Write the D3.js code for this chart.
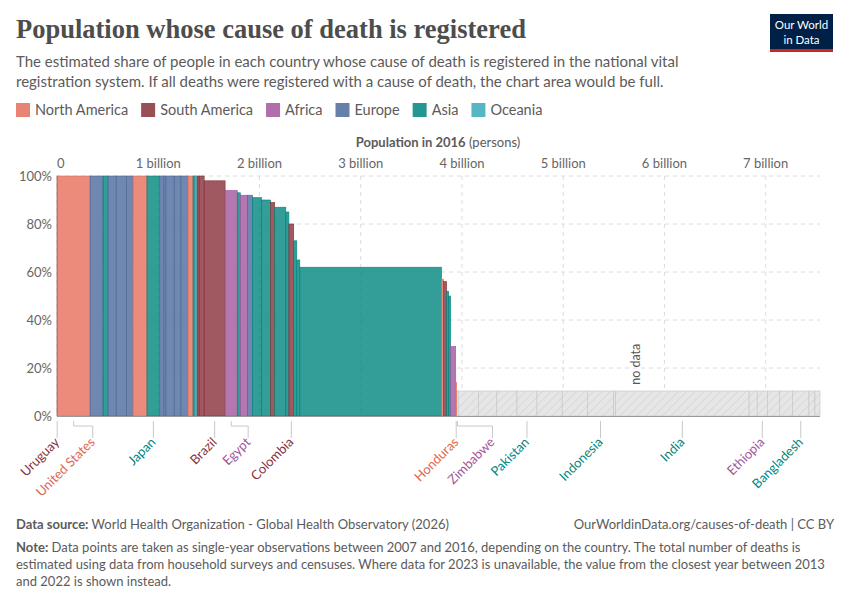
<!DOCTYPE html>
<html><head><meta charset="utf-8">
<script src="https://cdn.jsdelivr.net/npm/d3@7"></script>
<style>
body{margin:0;background:#fff;font-family:Lato,"Noto Sans",sans-serif;}
</style></head>
<body><svg id="chart" width="850" height="600"></svg>
<script>
// regions and colours
const regions = ["North America","South America","Africa","Europe","Asia","Oceania"];
const regionColors = ["#E56E5A","#883039","#A2559C","#4C6A9C","#00847E","#38AABA"];
const labelColors = ["#e0654f","#883039","#a2559c","#4c6a9c","#00847e","#38aaba"];

// countries with data, sorted by share registered (population in billions, share %)
const names   = ["Uruguay","United States","","","","","","Mexico","Japan","","","Germany","","","","","","","","Brazil","Egypt","","","","","","","","","Colombia","","","China","","","","","","Honduras"];
const region  = ["South America","North America","Europe","Asia","Europe","Europe","Europe","North America","Asia","Europe","Europe","Europe","Europe","Europe","North America","Asia","Oceania","South America","South America","South America","Africa","Asia","Africa","Europe","Asia","Asia","South America","Asia","Asia","South America","Asia","Asia","Asia","North America","South America","Asia","Asia","Africa","North America"];
const pop     = [0.0035,0.323,0.128,0.05,0.08,0.1,0.066,0.138,0.127,0.04,0.02,0.082,0.066,0.07,0.05,0.02,0.02,0.02,0.05,0.207,0.12,0.03,0.07,0.05,0.09,0.09,0.04,0.11,0.03,0.048,0.03,0.03,1.40,0.02,0.03,0.02,0.02,0.05,0.009];
const share   = [100,100,100,100,100,100,100,100,100,100,100,100,100,100,100,100,100,100,100,98,94,93,92,92,91,90,89,87,85,80,73,65,62,57,56,52,50,29,14];

// countries without data
const noDataNames  = ["Zimbabwe","","","","Pakistan","","","Indonesia","","India","","Ethiopia","","","Bangladesh","",""];
const noDataRegion = ["Africa","Africa","Asia","Africa","Asia","Africa","Asia","Asia","Asia","Asia","Africa","Africa","Africa","Asia","Asia","Africa","Asia"];
const noDataPop    = [0.016,0.2,0.18,0.2,0.197,0.25,0.25,0.256,0.02,1.32,0.08,0.10,0.12,0.13,0.16,0.06,0.05];

const labelled = ["Uruguay","United States","Japan","Brazil","Egypt","Colombia","Honduras","Zimbabwe","Pakistan","Indonesia","India","Ethiopia","Bangladesh"];
const labelShift = {"United States":19,"Egypt":17,"Zimbabwe":35};

const yTicks = [0,20,40,60,80,100];
const xTicks = [0,1,2,3,4,5,6,7];
const noDataShare = 10.4;

const svg = d3.select("#chart");
const colorOf = d3.scaleOrdinal(regions, regionColors);
const labelColorOf = d3.scaleOrdinal(regions, labelColors);

// header
svg.append("text").attr("x",16).attr("y",38).attr("font-family","'Liberation Serif','DejaVu Serif',serif")
  .attr("font-size",26.5).attr("font-weight","bold").attr("fill","#4d4d4d").text("Population whose cause of death is registered");
const sub = ["The estimated share of people in each country whose cause of death is registered in the national vital",
  "registration system. If all deaths were registered with a cause of death, the chart area would be full."];
sub.forEach((s,i)=>svg.append("text").attr("x",16).attr("y",67+i*20).attr("font-size",15).attr("fill","#5b5b5b").text(s));
const logo = svg.append("g");
logo.append("rect").attr("x",770).attr("y",14).attr("width",63).attr("height",36).attr("fill","#002147");
logo.append("rect").attr("x",770).attr("y",49).attr("width",63).attr("height",3).attr("fill","#ce261e");
logo.append("text").attr("x",801.5).attr("y",29).attr("text-anchor","middle").attr("fill","#fff").attr("font-size",11.5).text("Our World");
logo.append("text").attr("x",801.5).attr("y",44).attr("text-anchor","middle").attr("fill","#fff").attr("font-size",11.5).text("in Data");

// legend
let lx = 16;
regions.forEach(r=>{
  svg.append("rect").attr("x",lx).attr("y",103).attr("width",14).attr("height",14).attr("fill",colorOf(r)).attr("fill-opacity",0.85);
  const t = svg.append("text").attr("x",lx+19).attr("y",115).attr("font-size",14.5).attr("fill","#5b5b5b").text(r);
  lx += 19 + t.node().getComputedTextLength() + 13;
});

// scales
const rows = names.map((n,i)=>({name:n, region:region[i], pop:pop[i], share:share[i]}));
const noRows = noDataNames.map((n,i)=>({name:n, region:noDataRegion[i], pop:noDataPop[i], share:null}));
const all = rows.concat(noRows);
let acc = 0;
all.forEach(d=>{ d.x0 = acc; acc += d.pop; d.x1 = acc; });
const x = d3.scaleLinear().domain([0, acc]).range([57, 820]);
const y = d3.scaleLinear().domain([0,100]).range([416, 176]);

svg.append("text").attr("x",438).attr("y",147).attr("text-anchor","middle").attr("font-size",13).attr("fill","#5b5b5b")
  .html('<tspan font-weight="bold">Population in 2016</tspan> (persons)');

// grid
const grid = svg.append("g").attr("stroke","#dcdcdc").attr("stroke-dasharray","4,4");
yTicks.filter(t=>t>0).forEach(t=>grid.append("line").attr("x1",57).attr("x2",820).attr("y1",y(t)).attr("y2",y(t)));
xTicks.forEach(t=>grid.append("line").attr("x1",x(t)).attr("x2",x(t)).attr("y1",176).attr("y2",416));
yTicks.forEach(t=>svg.append("text").attr("x",52).attr("y",y(t)+5).attr("text-anchor","end").attr("font-size",13).attr("fill","#666").text(t+"%"));
xTicks.forEach(t=>svg.append("text").attr("x",x(t)+(t===0?0:0)).attr("y",168).attr("text-anchor",t===0?"start":"middle").attr("font-size",13).attr("fill","#666").text(t===0?"0":t+" billion"));

// hatch pattern
const defs = svg.append("defs");
const pat = defs.append("pattern").attr("id","hatch").attr("patternUnits","userSpaceOnUse").attr("width",6).attr("height",6).attr("patternTransform","rotate(45)");
pat.append("rect").attr("width",6).attr("height",6).attr("fill","#e6e6e6");
pat.append("line").attr("x1",0).attr("y1",0).attr("x2",0).attr("y2",6).attr("stroke","#d8d8d8").attr("stroke-width",2);

// no-data band
svg.selectAll("rect.nodata").data(noRows).join("rect").attr("class","nodata")
  .attr("x",d=>x(d.x0)).attr("width",d=>x(d.x1)-x(d.x0)).attr("y",y(noDataShare)).attr("height",y(0)-y(noDataShare))
  .attr("fill","url(#hatch)").attr("stroke","#c8c8c8").attr("stroke-width",0.7);
svg.append("text").attr("transform",`translate(${x(5.72)+4},${y(13)}) rotate(-90)`).attr("font-size",12.5).attr("fill","#555").text("no data");

// bars
svg.selectAll("rect.bar").data(rows).join("rect").attr("class","bar")
  .attr("x",d=>x(d.x0)).attr("width",d=>Math.max(0.6,x(d.x1)-x(d.x0))).attr("y",d=>y(d.share)).attr("height",d=>y(0)-y(d.share))
  .attr("fill",d=>colorOf(d.region)).attr("fill-opacity",0.8).attr("stroke",d=>colorOf(d.region)).attr("stroke-width",0.6);

svg.append("line").attr("x1",57).attr("x2",820).attr("y1",416.5).attr("y2",416.5).attr("stroke","#999");

// country labels
all.filter(d=>labelled.includes(d.name)).forEach(d=>{
  const cx = x((d.x0+d.x1)/2), sh = labelShift[d.name]||0, lxp = cx+sh;
  const g = svg.append("g").attr("stroke","#c8c8c8").attr("fill","none");
  if (sh) g.append("path").attr("d",`M${cx},421V426H${lxp}V438`);
  else g.append("line").attr("x1",cx).attr("x2",cx).attr("y1",421).attr("y2",438);
  svg.append("text").attr("transform",`translate(${lxp+3},${443}) rotate(-45)`).attr("text-anchor","end")
    .attr("font-size",13).attr("fill",labelColorOf(d.region)).text(d.name);
});

// footer
svg.append("text").attr("x",16).attr("y",529).attr("font-size",13).attr("fill","#5b5b5b")
  .html('<tspan font-weight="bold">Data source:</tspan> World Health Organization - Global Health Observatory (2026)');
svg.append("text").attr("x",834).attr("y",529).attr("text-anchor","end").attr("font-size",13).attr("fill","#5b5b5b")
  .text("OurWorldinData.org/causes-of-death | CC BY");
const notes = ['<tspan font-weight="bold">Note:</tspan> Data points are taken as single-year observations between 2007 and 2016, depending on the country. The total number of deaths is',
  "estimated using data from household surveys and censuses. Where data for 2023 is unavailable, the value from the closest year between 2013",
  "and 2022 is shown instead."];
notes.forEach((s,i)=>svg.append("text").attr("x",16).attr("y",552+i*17).attr("font-size",13).attr("fill","#5b5b5b").html(s));
</script></body></html>
